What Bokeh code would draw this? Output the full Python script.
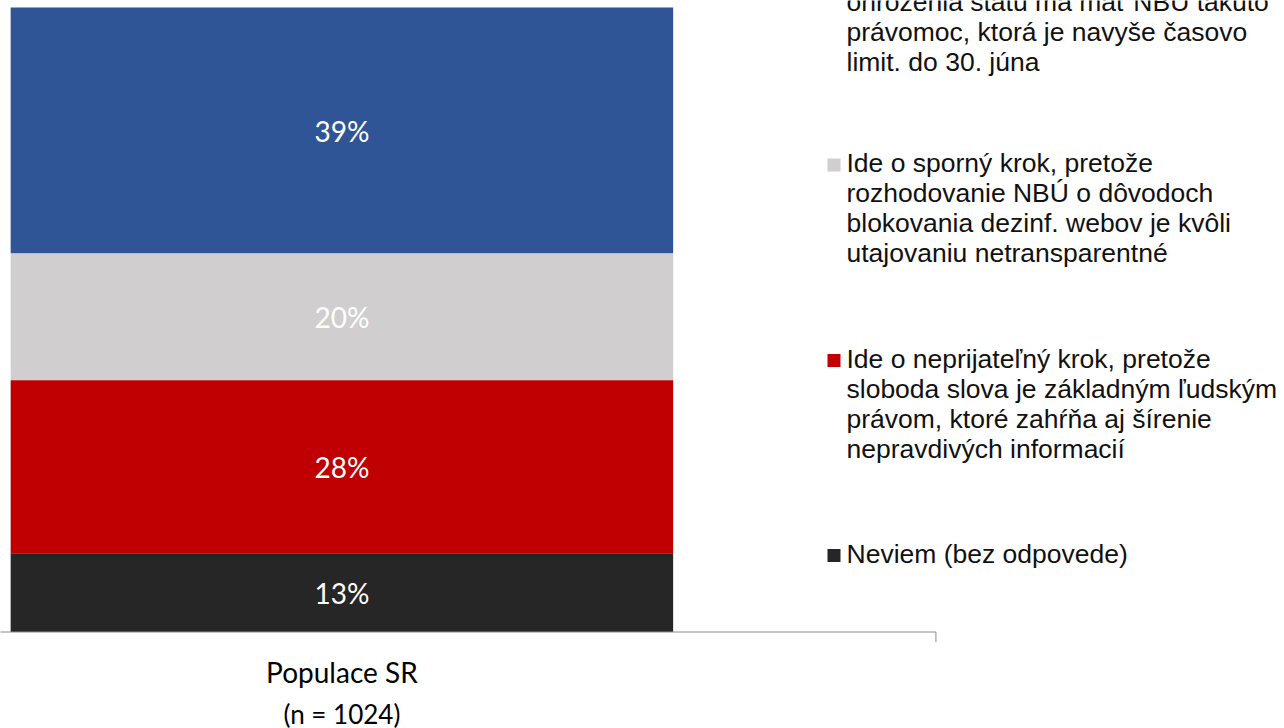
from bokeh.plotting import figure
from bokeh.models import Range1d, ColumnDataSource
from bokeh.core.properties import value
from bokeh.embed import file_html
from bokeh.resources import INLINE

# ---------------- data ----------------
categories = ["Populace SR"]
sample_note = ["(n = 1024)"]
# stack order from top to bottom (same as legend order)
values = [39.4, 20.3, 27.7, 12.6]
value_labels = ["39%", "20%", "28%", "13%"]
colors = ["#2F5597", "#D0CECE", "#C00000", "#262626"]
legend_lines = [
    ["ohrozenia štátu má mať NBÚ takúto",
     "právomoc, ktorá je navyše časovo",
     "limit. do 30. júna"],
    ["Ide o sporný krok, pretože",
     "rozhodovanie NBÚ o dôvodoch",
     "blokovania dezinf. webov je kvôli",
     "utajovaniu netransparentné"],
    ["Ide o neprijateľný krok, pretože",
     "sloboda slova je základným ľudským",
     "právom, ktoré zahŕňa aj šírenie",
     "nepravdivých informacií"],
    ["Neviem (bez odpovede)"],
]

# ---------------- geometry (pixels) ----------------
W, H = 1284, 728
PXX = 1188.0          # pixels per category unit
cat_center_px = 341.4
PXY = 6.245           # pixels per percent
bar_bottom_px = 631.5

x_start = -cat_center_px / PXX
x_end = x_start + W / PXX
y_end = bar_bottom_px / PXY
y_start = y_end - H / PXY


def X(px):
    return x_start + px / PXX


def Y(px):
    return y_end - px / PXY


total = sum(values)
tops, bottoms, mids = [], [], []
acc = total
for v in values:
    tops.append(acc)
    bottoms.append(acc - v)
    mids.append(acc - v / 2)
    acc -= v

p = figure(width=W, height=H, x_range=Range1d(x_start, x_end),
           y_range=Range1d(y_start, y_end), output_backend="svg",
           toolbar_location=None, min_border=0, x_axis_type=None,
           y_axis_type=None, outline_line_color=None)
p.grid.visible = False

src = ColumnDataSource(dict(x=[0] * len(values), top=tops, bottom=bottoms,
                            color=colors, mid=mids, lab=value_labels))
p.vbar(x="x", width=662.5 / PXX, top="top", bottom="bottom",
       fill_color="color", line_color=None, source=src)
p.text(x="x", y="mid", text="lab", source=src, text_color="white",
       text_font=value("Lato"), text_font_size="28px",
       text_align="center", text_baseline="middle")

# category axis
p.segment(x0=[-0.5], y0=[0], x1=[0.5], y1=[0], line_color="#8C8C8C", line_width=1)
p.segment(x0=[0.5], y0=[0], x1=[0.5], y1=[-10 / PXY], line_color="#8C8C8C", line_width=1)
p.text(x=[0], y=[Y(671)], text=categories, text_color="#000000",
       text_font=value("Lato"), text_font_size="28px",
       text_align="center", text_baseline="middle")
p.text(x=[0], y=[Y(713)], text=sample_note, text_color="#000000",
       text_font=value("Lato"), text_font_size="26px",
       text_align="center", text_baseline="middle")

# legend
first_text_baselines = [1.7, 162.5, 358.0, 553.0]
marker_baselines = [-28.3, 162.5, 358.0, 553.0]
line_gap = 30.0
lx, ly, lt = [], [], []
for lines, b0 in zip(legend_lines, first_text_baselines):
    for i, t in enumerate(lines):
        lx.append(X(846.0))
        ly.append(Y(b0 + i * line_gap))
        lt.append(t)
p.text(x=lx, y=ly, text=lt, text_color="#111111",
       text_font=value("Liberation Sans"), text_font_size="26.5px",
       text_align="left", text_baseline="alphabetic")
p.scatter(x=[X(833.5)] * 4, y=[Y(b + 2.0) for b in marker_baselines],
          marker="square", size=13, fill_color=colors, line_color=None)

open("out.html", "w").write(file_html(p, INLINE))
